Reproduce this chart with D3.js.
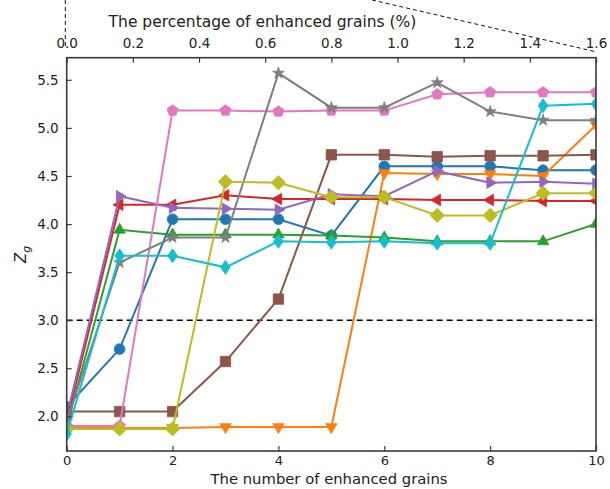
<!DOCTYPE html>
<html><head><meta charset="utf-8">
<script src="https://cdn.jsdelivr.net/npm/d3@7/dist/d3.min.js"></script>
<style>body{margin:0;background:#fff}svg{display:block}text{font-family:"DejaVu Sans",Verdana,sans-serif;fill:#222}</style>
</head><body><svg id="c" width="610" height="489"></svg>
<script>
const xCounts = [0,1,2,3,4,5,6,7,8,9,10];
const bottomTicks = [0,2,4,6,8,10];
const topTicks = [0.0,0.2,0.4,0.6,0.8,1.0,1.2,1.4,1.6];
const yTicks = [2.0,2.5,3.0,3.5,4.0,4.5,5.0,5.5];
const threshold = 3.0;
const seriesBlue   = [2.10,2.70,4.05,4.05,4.05,3.88,4.60,4.60,4.60,4.56,4.56];
const seriesOrange = [1.88,1.88,1.88,1.89,1.89,1.89,4.53,4.52,4.52,4.50,5.03];
const seriesGreen  = [1.90,3.94,3.89,3.89,3.89,3.88,3.86,3.82,3.82,3.82,4.00];
const seriesRed    = [1.95,4.20,4.20,4.30,4.26,4.26,4.26,4.25,4.25,4.24,4.24];
const seriesPurple = [2.00,4.29,4.17,4.16,4.15,4.31,4.29,4.55,4.43,4.44,4.42];
const seriesBrown  = [2.05,2.05,2.05,2.57,3.22,4.72,4.72,4.70,4.71,4.71,4.72];
const seriesPink   = [1.90,1.90,5.18,5.18,5.17,5.18,5.18,5.35,5.37,5.37,5.37];
const seriesGray   = [1.95,3.60,3.86,3.86,5.57,5.21,5.21,5.47,5.17,5.08,5.08];
const seriesOlive  = [1.87,1.87,1.87,4.44,4.43,4.28,4.28,4.09,4.09,4.32,4.32];
const seriesCyan   = [1.82,3.67,3.67,3.55,3.82,3.81,3.82,3.80,3.80,5.23,5.25];

const W=610,H=489, L=66.7, R=596, T=57.7, B=451;
const svg=d3.select("#c");
const x=d3.scaleLinear().domain([0,10]).range([L,R]);
const xTop=d3.scaleLinear().domain([0,1.6]).range([L,R]);
const y=d3.scaleLinear().domain([1.64,5.73]).range([B,T]);

// connector dashed lines (from inset above)
svg.append("line").attr("x1",65.3).attr("y1",0).attr("x2",65.3).attr("y2",47)
  .attr("stroke","#111").attr("stroke-width",1).attr("stroke-dasharray","4,3");
svg.append("line").attr("x1",372).attr("y1",0).attr("x2",597).attr("y2",52)
  .attr("stroke","#111").attr("stroke-width",1).attr("stroke-dasharray","4,3");

svg.append("clipPath").attr("id","clip").append("rect")
  .attr("x",L).attr("y",T).attr("width",R-L).attr("height",B-T);

const g=svg.append("g").attr("clip-path","url(#clip)");
g.append("line").attr("x1",L).attr("x2",R).attr("y1",y(threshold)).attr("y2",y(threshold))
  .attr("stroke","#000").attr("stroke-width",1.5).attr("stroke-dasharray","6,4");

function poly(pts){return "M"+pts.map(p=>p.join(",")).join("L")+"Z";}
function regPoly(n,r,rot){const a=[];for(let i=0;i<n;i++){const t=rot+i*2*Math.PI/n;a.push([r*Math.sin(t),-r*Math.cos(t)]);}return poly(a);}
const shapes={
  circle: ()=>d3.symbol(d3.symbolCircle,90)(),
  triDown: ()=>regPoly(3,6.6,Math.PI),
  triUp: ()=>regPoly(3,6.6,0),
  triLeft: ()=>regPoly(3,6.6,-Math.PI/2),
  triRight: ()=>regPoly(3,6.6,Math.PI/2),
  square: ()=>poly([[-5.2,-5.2],[5.2,-5.2],[5.2,5.2],[-5.2,5.2]]),
  pentagon: ()=>regPoly(5,5.8,0),
  star: ()=>d3.symbol(d3.symbolStar,42)(),
  diamond: ()=>poly([[0,-7.2],[7.2,0],[0,7.2],[-7.2,0]]),
  thinDiamond: ()=>poly([[0,-7],[4.8,0],[0,7],[-4.8,0]])
};
const series=[
  {v:seriesBlue,c:"#1f77b4",m:"circle"},
  {v:seriesOrange,c:"#ff7f0e",m:"triDown"},
  {v:seriesGreen,c:"#2ca02c",m:"triUp"},
  {v:seriesRed,c:"#d62728",m:"triLeft"},
  {v:seriesPurple,c:"#9467bd",m:"triRight"},
  {v:seriesBrown,c:"#8c564b",m:"square"},
  {v:seriesPink,c:"#e377c2",m:"pentagon"},
  {v:seriesGray,c:"#7f7f7f",m:"star"},
  {v:seriesOlive,c:"#bcbd22",m:"diamond"},
  {v:seriesCyan,c:"#17becf",m:"thinDiamond"}
];
const line=d3.line().x((d,i)=>x(xCounts[i])).y(d=>y(d));
series.forEach(s=>{
  const sg=g.append("g");
  sg.append("path").attr("d",line(s.v)).attr("fill","none").attr("stroke",s.c).attr("stroke-width",2);
  sg.selectAll("path.m").data(s.v).enter().append("path").attr("class","m")
    .attr("d",shapes[s.m]()).attr("transform",(d,i)=>`translate(${x(xCounts[i])},${y(d)})`)
    .attr("fill",s.c).attr("stroke",s.c).attr("stroke-width",0.8);
});

// frame
svg.append("rect").attr("x",L).attr("y",T).attr("width",R-L).attr("height",B-T)
  .attr("fill","none").attr("stroke","#3a3a3a").attr("stroke-width",1.6);

const xb=svg.append("g").attr("transform",`translate(0,${B})`)
  .call(d3.axisBottom(x).tickValues(bottomTicks).tickSize(-5).tickPadding(5).tickFormat(d3.format("d")));
const xt=svg.append("g").attr("transform",`translate(0,${T})`)
  .call(d3.axisTop(xTop).tickValues(topTicks).tickSize(-5).tickPadding(10).tickFormat(d3.format(".1f")));
const yl=svg.append("g").attr("transform",`translate(${L},0)`)
  .call(d3.axisLeft(y).tickValues(yTicks).tickSize(-5).tickPadding(8).tickFormat(d3.format(".1f")));
[xb,xt,yl].forEach(a=>{
  a.select(".domain").remove();
  a.selectAll(".tick line").attr("stroke","#3a3a3a").attr("stroke-width",1.2);
  a.selectAll(".tick text").attr("font-size",13.5).attr("fill","#222").style("font-family","'DejaVu Sans',Verdana,sans-serif");
});
xb.selectAll(".tick text").attr("font-size",13);

svg.append("text").attr("x",329).attr("y",484).attr("text-anchor","middle").attr("font-size",14.8)
  .text("The number of enhanced grains");
svg.append("text").attr("x",262.5).attr("y",26.5).attr("text-anchor","middle").attr("font-size",15.5)
  .text("The percentage of enhanced grains (%)");
const yt=svg.append("text").attr("transform",`translate(26,${(T+B)/2}) rotate(-90)`).attr("text-anchor","middle").attr("font-size",15);
yt.append("tspan").attr("font-style","italic").text("Z");
yt.append("tspan").attr("font-style","italic").attr("font-size",11).attr("dy",4).text("g");
</script></body></html>
